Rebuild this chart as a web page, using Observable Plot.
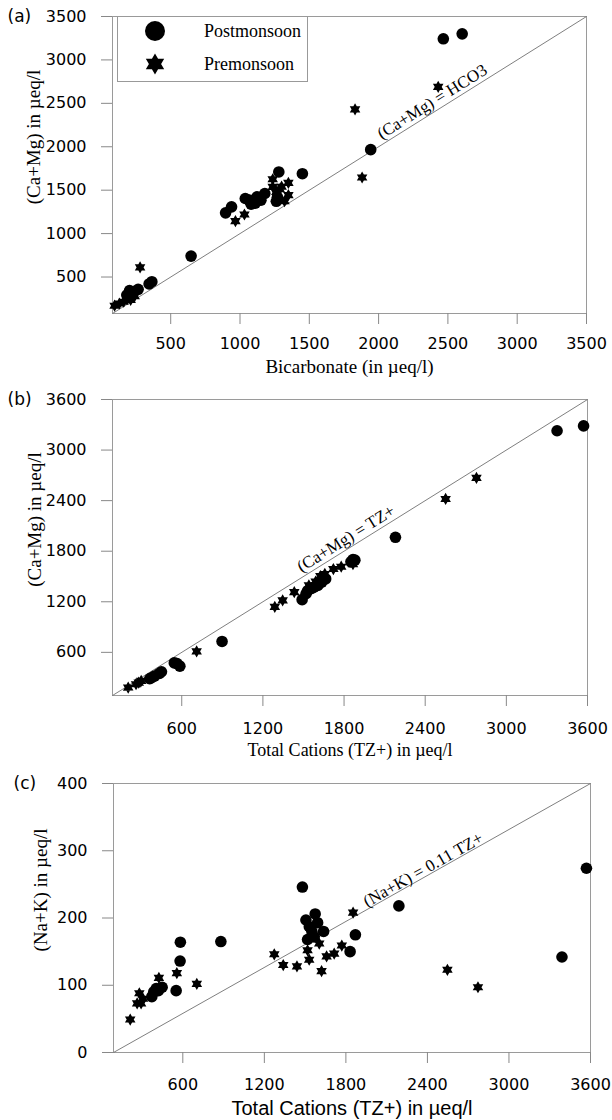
<!DOCTYPE html>
<html><head><meta charset="utf-8">
<script src="https://cdn.jsdelivr.net/npm/d3@7"></script>
<script src="https://cdn.jsdelivr.net/npm/@observablehq/plot@0.6"></script>
<style>
body{margin:0;background:#fff;}
#wrap{position:relative;width:612px;height:1120px;overflow:hidden;}
#wrap svg{display:block;}
.legend{position:absolute;left:117px;top:16px;width:191px;height:66px;border:1px solid #999;box-sizing:border-box;background:#fff;font-family:"Liberation Serif","Times New Roman",serif;font-size:18px;color:#000;}
.legend svg{position:absolute;left:24px;}
.legend span{position:absolute;left:86px;white-space:nowrap;}
</style></head><body><div id="wrap"></div>
<script>
// ---------------- data ----------------
const panelLabels = ["(a)", "(b)", "(c)"];
const seasons = ["Postmonsoon", "Premonsoon"];

// (a) x: Bicarbonate, y: Ca+Mg  (µeq/l)
const aPost = [[2467,3243],[2603,3300],[1943,1967],[1450,1690],[1280,1710],[1262,1372],[1270,1420],
  [1038,1404],[1066,1385],[1080,1339],[1094,1366],[1123,1423],[1151,1385],[1179,1462],[1110,1350],
  [896,1239],[939,1308],[647,741],[364,446],[344,420],[265,358],[231,331],[203,343],[183,293]];
const aPre = [[2430,2690],[1830,2430],[1881,1646],[1236,1626],[1349,1584],[1287,1511],[1349,1443],
  [1321,1374],[1236,1538],[1262,1480],[1300,1540],[1032,1220],[967,1144],[279,611],[95,170],
  [160,216],[211,236],[130,195],[185,250],[240,280]];

// (b) x: TZ+, y: Ca+Mg
const bPost = [[3571,3287],[3375,3229],[2180,1965],[1880,1694],[1851,1674],[1866,1700],[1490,1225],
  [1519,1295],[1548,1354],[1577,1373],[1606,1393],[1635,1432],[1664,1471],[1530,1330],[1560,1360],
  [898,729],[565,467],[586,436],[545,475],[363,287],[398,319],[435,350],[450,370],[377,299]];
const bPre = [[2779,2670],[2551,2420],[1866,1647],[1779,1616],[1721,1588],[1658,1530],[1625,1505],
  [1432,1315],[1346,1217],[1288,1139],[1590,1440],[1540,1395],[710,612],[204,182],[282,241],
  [262,222],[300,262]];

// (c) x: TZ+, y: Na+K
const cPost = [[3570,274],[3390,142],[2190,218],[1870,175],[1831,150],[1480,246],[1506,197],
  [1574,206],[1592,193],[1636,180],[1518,168],[1567,172],[1531,187],[1550,180],[880,165],
  [582,164],[580,136],[551,92],[448,97],[404,95],[372,83],[386,90],[420,92]];
const cPre = [[213,49],[264,73],[293,73],[280,88],[307,80],[424,111],[556,118],[703,102],
  [1273,146],[1339,130],[1440,128],[1518,152],[1530,138],[1604,162],[1621,121],[1658,143],
  [1714,147],[1770,159],[1853,208],[2547,123],[2772,97]];

const ticksA = [500, 1000, 1500, 2000, 2500, 3000, 3500];
const ticksB = [600, 1200, 1800, 2400, 3000, 3600];
const ticksCy = [0, 100, 200, 300, 400];

const xTitles = ["Bicarbonate (in µeq/l)", "Total Cations (TZ+) in µeq/l", "Total Cations (TZ+) in µeq/l"];
const yTitles = ["(Ca+Mg) in µeq/l", "(Ca+Mg) in µeq/l", "(Na+K) in µeq/l"];
const lineLabels = ["(Ca+Mg) = HCO3", "(Ca+Mg) = TZ+", "(Na+K) = 0.11 TZ+"];
const lineLabelAt = [2407, 1835, 2388];   // x position (data units) of label centre along the line

// ---------------- helpers ----------------
const SANS = "'Liberation Sans', Arial, sans-serif";
const TICKFONT = "'DejaVu Sans', 'Liberation Sans', sans-serif";
const SERIF = "'Liberation Serif', 'Times New Roman', serif";
const hexagram = {
  draw(ctx, size) {
    const r = Math.sqrt(size / Math.PI) * 1.15;
    for (const off of [-Math.PI / 2, Math.PI / 2]) {
      for (let i = 0; i < 3; i++) {
        const a = off + i * 2 * Math.PI / 3;
        const x = r * Math.cos(a), y = r * Math.sin(a);
        if (i === 0) ctx.moveTo(x, y); else ctx.lineTo(x, y);
      }
      ctx.closePath();
    }
  }
};
const toRows = (arr) => arr.map(([x, y]) => ({x, y}));
const plain = (d) => `${d}`;

function panel(cfg) {
  const W = 612;
  const pw = W - cfg.ml - cfg.mr, ph = cfg.h - cfg.mt - cfg.mb;
  const ang = Math.atan2(ph, pw) * 180 / Math.PI;
  const [x0, x1] = cfg.xd, [y0, y1] = cfg.yd;
  const lx = cfg.labelAt;
  const ly = y0 + (lx - x0) * (y1 - y0) / (x1 - x0);
  return Plot.plot({
    width: W, height: cfg.h,
    marginTop: cfg.mt, marginBottom: cfg.mb, marginLeft: cfg.ml, marginRight: cfg.mr,
    style: {fontFamily: SANS, background: "white", overflow: "visible"},
    x: {domain: cfg.xd},
    y: {domain: cfg.yd},
    marks: [
      Plot.frame({stroke: "#9a9a9a", strokeWidth: 1}),
      Plot.link([{x1: x0, y1: y0, x2: x1, y2: y1}], {x1: "x1", y1: "y1", x2: "x2", y2: "y2", stroke: "#707070", strokeWidth: 0.9}),
      Plot.axisX({ticks: cfg.xt, tickFormat: plain, tickSize: 11, tickPadding: cfg.xpad, stroke: "#888", fill: "#000", fontSize: 16, fontFamily: TICKFONT, label: null}),
      Plot.axisY({ticks: cfg.yt, tickFormat: plain, tickSize: 11, tickPadding: 15, stroke: "#888", fill: "#000", fontSize: 16, fontFamily: TICKFONT, label: null}),
      Plot.dot(toRows(cfg.post), {x: "x", y: "y", r: 5.8, fill: "#000", symbol: "circle"}),
      Plot.dot(toRows(cfg.pre), {x: "x", y: "y", r: 5.3, fill: "#000", symbol: hexagram}),
      Plot.text([cfg.lineLabel], {x: () => lx, y: () => ly, text: d => d, rotate: -ang, textAnchor: "middle",
        lineAnchor: "bottom", dy: cfg.ldy, fontSize: 17, fontFamily: SERIF, fill: "#000"}),
      Plot.text([cfg.xTitle], {frameAnchor: "bottom", text: d => d, dy: cfg.xtdy, lineAnchor: "middle",
        fontSize: cfg.xtSize, fontFamily: cfg.xtFont, fill: "#000"}),
      Plot.text([cfg.yTitle], {frameAnchor: "left", text: d => d, dx: cfg.ytdx, dy: -28, rotate: -90,
        textAnchor: "middle", lineAnchor: "middle", fontSize: 19, fontFamily: SERIF, fill: "#000"}),
      Plot.text([cfg.panel], {frameAnchor: "top-left", text: d => d, dx: cfg.pdx, textAnchor: "start",
        lineAnchor: "middle", fontSize: 17, fontFamily: TICKFONT, fill: "#000"})
    ]
  });
}

const wrap = document.getElementById("wrap");
wrap.append(panel({h: 378, mt: 16, mb: 65, ml: 112, mr: 26, xd: [80, 3500], yd: [80, 3500],
  xt: ticksA, yt: ticksA, xpad: 13, post: aPost, pre: aPre, lineLabel: lineLabels[0], labelAt: lineLabelAt[0], ldy: -5,
  xTitle: xTitles[0], xtdy: 53, xtSize: 19, xtFont: SERIF, yTitle: yTitles[0], ytdx: -79, panel: panelLabels[0], pdx: -105}));
wrap.append(panel({h: 382, mt: 21, mb: 65, ml: 112, mr: 25, xd: [88, 3600], yd: [88, 3600],
  xt: ticksB, yt: ticksB, xpad: 16, post: bPost, pre: bPre, lineLabel: lineLabels[1], labelAt: lineLabelAt[1], ldy: -5,
  xTitle: xTitles[1], xtdy: 55, xtSize: 18, xtFont: SERIF, yTitle: yTitles[1], ytdx: -78, panel: panelLabels[1], pdx: -105}));
wrap.append(panel({h: 360, mt: 23, mb: 68, ml: 113, mr: 22, xd: [90, 3600], yd: [0, 400],
  xt: ticksB, yt: ticksCy, xpad: 15, post: cPost, pre: cPre, lineLabel: lineLabels[2], labelAt: lineLabelAt[2], ldy: -2,
  xTitle: xTitles[2], xtdy: 56, xtSize: 20, xtFont: SANS, yTitle: yTitles[2], ytdx: -73, panel: panelLabels[2], pdx: -100}));

// legend (panel a)
const leg = document.createElement("div");
leg.className = "legend";
const symPaths = [d3.symbol(d3.symbolCircle, Math.PI * 100)(), d3.symbol(hexagram, Math.PI * 85)()];
seasons.forEach((s, i) => {
  const top = i === 0 ? 1 : 34;
  leg.insertAdjacentHTML("beforeend",
    `<svg width="26" height="26" style="top:${top}px"><path transform="translate(13,13)" d="${symPaths[i]}" fill="#000"/></svg>` +
    `<span style="top:${top + 1}px;line-height:24px">${s}</span>`);
});
wrap.append(leg);
</script></body></html>
